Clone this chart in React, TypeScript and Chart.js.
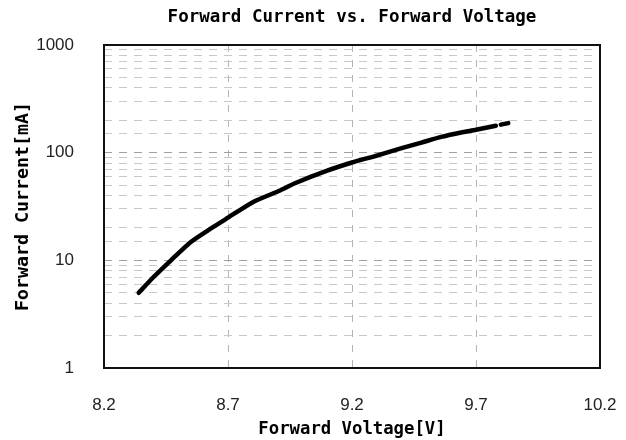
import React, { useEffect, useRef } from "react";
import { Chart, registerables } from "chart.js";

Chart.register(...registerables);

const voltage: number[] = [8.34, 8.40, 8.47, 8.55, 8.63, 8.70, 8.80, 8.91, 8.97, 9.10, 9.20, 9.30, 9.40, 9.48, 9.56, 9.64, 9.70, 9.78, 9.79, 9.80, 9.83];
const current: (number | null)[] = [5, 7, 10, 14.8, 19.7, 24.9, 34.7, 44.5, 52, 68, 81, 94, 110, 124, 140, 154, 163, 178, null, 182, 188];
const xTicks: number[] = [8.2, 8.7, 9.2, 9.7, 10.2];
const yLabels: number[] = [1, 10, 100, 1000];

const titleText = "Forward Current vs. Forward Voltage";
const xTitle = "Forward Voltage[V]";
const yTitle = "Forward Current[mA]";

const frame = {
  id: "frame",
  afterDatasetsDraw(chart: any) {
    const { ctx, chartArea } = chart;
    ctx.save();
    ctx.strokeStyle = "#111";
    ctx.lineWidth = 2;
    ctx.strokeRect(chartArea.left, chartArea.top, chartArea.right - chartArea.left, chartArea.bottom - chartArea.top);
    ctx.restore();
  },
};

const isPow10 = (v: number) => Math.abs(Math.log10(v) - Math.round(Math.log10(v))) < 1e-9;

export default function App() {
  const ref = useRef<HTMLCanvasElement>(null);
  useEffect(() => {
    if (!ref.current) return;
    const chart = new Chart(ref.current, {
      type: "line",
      data: {
        datasets: [
          {
            data: voltage.map((x, i) => ({ x, y: current[i] as any })),
            borderColor: "#000",
            borderWidth: 4.5,
            pointRadius: 0,
            tension: 0.2,
            spanGaps: false,
            borderCapStyle: "round",
            borderJoinStyle: "round",
          } as any,
        ],
      },
      plugins: [frame],
      options: {
        responsive: false,
        animation: false,
        layout: { padding: { left: 0, right: 26, top: 0, bottom: 0 } },
        plugins: {
          legend: { display: false },
          tooltip: { enabled: false },
          title: {
            display: true,
            fullSize: false,
            text: titleText,
            color: "#000",
            font: { family: "'DejaVu Sans Mono'", size: 17.5, weight: "bold" },
            padding: { top: 7, bottom: 17 },
          },
        },
        scales: {
          x: {
            type: "linear",
            min: 8.2,
            max: 10.2,
            afterFit: (s: any) => { s.height = 72; s.paddingLeft = 0; s.paddingRight = 0; },
            afterBuildTicks: (s: any) => { s.ticks = xTicks.map((v) => ({ value: v })); },
            ticks: {
              color: "#222",
              padding: 27,
              font: { family: "'Liberation Sans'", size: 17 },
              callback: (v: any) => Number(v).toFixed(1),
              maxRotation: 0,
            },
            grid: { color: "#b4b4b4", lineWidth: 1, drawTicks: false },
            border: { display: false, dash: [7, 8] },
            title: {
              display: true,
              text: xTitle,
              color: "#000",
              font: { family: "'DejaVu Sans Mono'", size: 17.3, weight: "bold" },
              padding: { top: 0, bottom: 0 },
            },
          },
          y: {
            type: "logarithmic",
            min: 1,
            max: 1000,
            afterFit: (s: any) => { s.width = 104; },
            ticks: {
              color: "#222",
              padding: 30,
              font: { family: "'Liberation Sans'", size: 17 },
              autoSkip: false,
              callback: (v: any) => (yLabels.includes(Number(v)) ? String(v) : ""),
            },
            grid: {
              color: (c: any) => (c.tick && isPow10(c.tick.value) ? "#a0a0a0" : "#c8c8c8"),
              lineWidth: 1,
              drawTicks: false,
            },
            border: { display: false, dash: [8, 7] },
            title: {
              display: true,
              text: yTitle,
              color: "#000",
              font: { family: "'DejaVu Sans Mono'", size: 18.3, weight: "bold" },
              padding: { top: 12, bottom: 0 },
            },
          },
        },
      } as any,
    });
    return () => chart.destroy();
  }, []);
  return (
    <div style={{ position: "fixed", left: 0, top: 0, width: 626, height: 440, background: "#fff" }}>
      <canvas ref={ref} width={626} height={440} />
    </div>
  );
}
